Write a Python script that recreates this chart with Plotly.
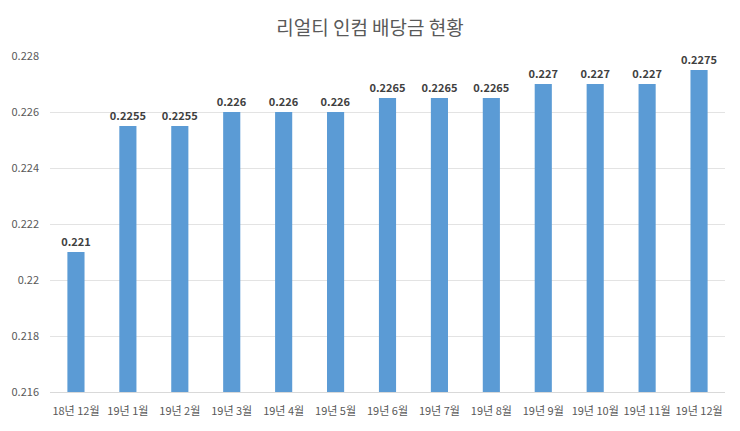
import plotly.graph_objects as go

categories = ["18년 12월", "19년 1월", "19년 2월", "19년 3월", "19년 4월", "19년 5월",
              "19년 6월", "19년 7월", "19년 8월", "19년 9월", "19년 10월", "19년 11월", "19년 12월"]
dividends = [0.221, 0.2255, 0.2255, 0.226, 0.226, 0.226,
             0.2265, 0.2265, 0.2265, 0.227, 0.227, 0.227, 0.2275]
label_text = ["0.221", "0.2255", "0.2255", "0.226", "0.226", "0.226",
              "0.2265", "0.2265", "0.2265", "0.227", "0.227", "0.227", "0.2275"]
y_tick_vals = [0.216, 0.218, 0.220, 0.222, 0.224, 0.226, 0.228]
y_tick_text = ["0.216", "0.218", "0.22", "0.222", "0.224", "0.226", "0.228"]
axis_base = 0.216

font_main = "Noto Sans CJK KR, Noto Sans, sans-serif"

fig = go.Figure(go.Bar(
    x=categories,
    y=[v - axis_base for v in dividends],
    base=axis_base,
    marker=dict(color="#5B9BD5", line=dict(width=0)),
    width=0.33,
    text=[f"<b>{t}</b>" for t in label_text],
    textposition="outside",
    constraintext="none",
    textfont=dict(family=font_main, size=11, color="#404040"),
    cliponaxis=False,
))

fig.update_layout(
    width=740, height=431,
    margin=dict(l=47, r=15, t=56, b=39),
    paper_bgcolor="white",
    plot_bgcolor="white",
    showlegend=False,
    title=dict(text="리얼티 인컴 배당금 현황", x=0.5, xanchor="center", y=0.935, yanchor="middle",
               font=dict(family=font_main, size=19, color="#595959")),
)
fig.update_xaxes(
    showgrid=False, showline=True, linecolor="#D9D9D9", linewidth=1,
    ticks="", tickfont=dict(family=font_main, size=11, color="#595959"),
    tickangle=0, ticklabelstandoff=9,
)
fig.update_yaxes(
    range=[0.216, 0.228],
    tickvals=y_tick_vals, ticktext=y_tick_text,
    showgrid=True, gridcolor="#E3E3E3", gridwidth=1,
    zeroline=False, showline=False, ticks="",
    ticklabelstandoff=10,
    tickfont=dict(family=font_main, size=11, color="#595959"),
)
fig.write_html("out.html")
